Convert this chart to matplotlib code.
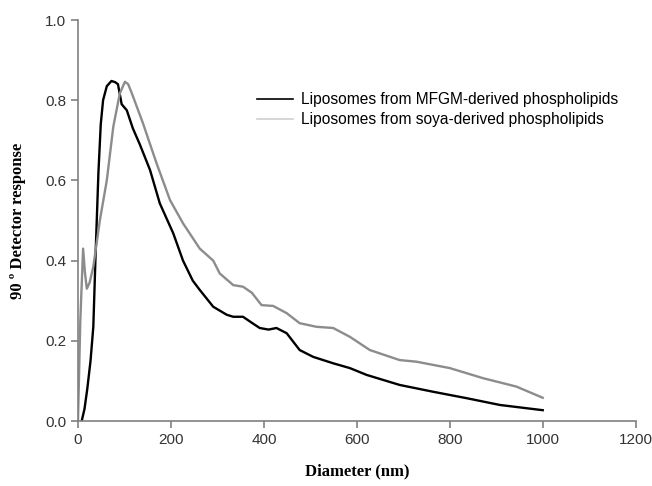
import matplotlib
matplotlib.use('Agg')
import matplotlib.pyplot as plt
from matplotlib.lines import Line2D

# MFGM-derived liposomes (black curve)
mfgm_x = [8, 14, 20, 27, 33, 38, 44, 49, 54, 62, 72, 80, 86, 94, 105, 118, 133, 155, 176,
          205, 226, 247, 262, 291, 320, 334, 355, 374, 391, 410, 427, 449, 477, 506, 549,
          585, 621, 692, 764, 836, 908, 1000]
mfgm_y = [0.0, 0.03, 0.08, 0.15, 0.235, 0.42, 0.62, 0.74, 0.80, 0.835, 0.848, 0.845, 0.84,
          0.79, 0.775, 0.73, 0.69, 0.626, 0.543, 0.468, 0.40, 0.35, 0.327, 0.285, 0.265,
          0.26, 0.26, 0.245, 0.232, 0.228, 0.232, 0.219, 0.177, 0.16, 0.144, 0.132, 0.115,
          0.09, 0.073, 0.057, 0.04, 0.027]

# soya-derived liposomes (grey curve)
soya_x = [0, 5, 11, 15, 19, 25, 33, 47, 62, 76, 90, 101, 108, 115, 140, 169, 198, 226,
          262, 291, 305, 334, 355, 374, 395, 420, 449, 477, 513, 549, 585, 628, 692,
          728, 800, 871, 943, 1000]
soya_y = [0.0, 0.25, 0.43, 0.37, 0.33, 0.345, 0.385, 0.50, 0.60, 0.734, 0.817, 0.846,
          0.84, 0.82, 0.742, 0.643, 0.551, 0.493, 0.43, 0.40, 0.368, 0.339, 0.335, 0.32,
          0.289, 0.287, 0.269, 0.244, 0.235, 0.232, 0.21, 0.177, 0.152, 0.148, 0.132,
          0.107, 0.086, 0.058]

series_labels = ['Liposomes from MFGM-derived phospholipids',
                 'Liposomes from soya-derived phospholipids']

fig = plt.figure(figsize=(6.52, 4.86), dpi=100)
ax = fig.add_axes([0.1196, 0.1337, 0.8554, 0.8251])

ax.plot(mfgm_x, mfgm_y, color='black', linewidth=1.7)
ax.plot(soya_x, soya_y, color='#8c8c8c', linewidth=1.7)

ax.set_xlim(0, 1200)
ax.set_ylim(0, 1.0)
ax.set_xticks(range(0, 1201, 200))
ax.set_yticks([0.0, 0.2, 0.4, 0.6, 0.8, 1.0])
ax.set_yticklabels(['0.0', '0.2', '0.4', '0.6', '0.8', '1.0'])

for side in ['top', 'right']:
    ax.spines[side].set_visible(False)
for side in ['left', 'bottom']:
    ax.spines[side].set_color('#808080')
    ax.spines[side].set_linewidth(1.2)

ax.tick_params(direction='out', length=5, width=1.2, color='#808080',
               labelsize=11, labelcolor='#333333')
for lbl in ax.get_xticklabels() + ax.get_yticklabels():
    lbl.set_family('Liberation Sans')

ax.set_xlabel('Diameter (nm)', family='Liberation Serif', fontweight='bold',
              fontsize=12, labelpad=12)
ax.set_ylabel('90 º Detector response', family='Liberation Serif', fontweight='bold',
              fontsize=12, labelpad=14)

handles = [Line2D([0], [0], color='black', linewidth=1.2),
           Line2D([0], [0], color='#d0d0d0', linewidth=1.2)]
ax.legend(handles, series_labels, loc='upper left', bbox_to_anchor=(0.31, 0.835),
          frameon=False, prop={'family': 'Liberation Sans', 'size': 11.2},
          handlelength=2.3, handletextpad=0.5, labelspacing=0.3, borderaxespad=0)

fig.savefig('out.png', dpi=100)
